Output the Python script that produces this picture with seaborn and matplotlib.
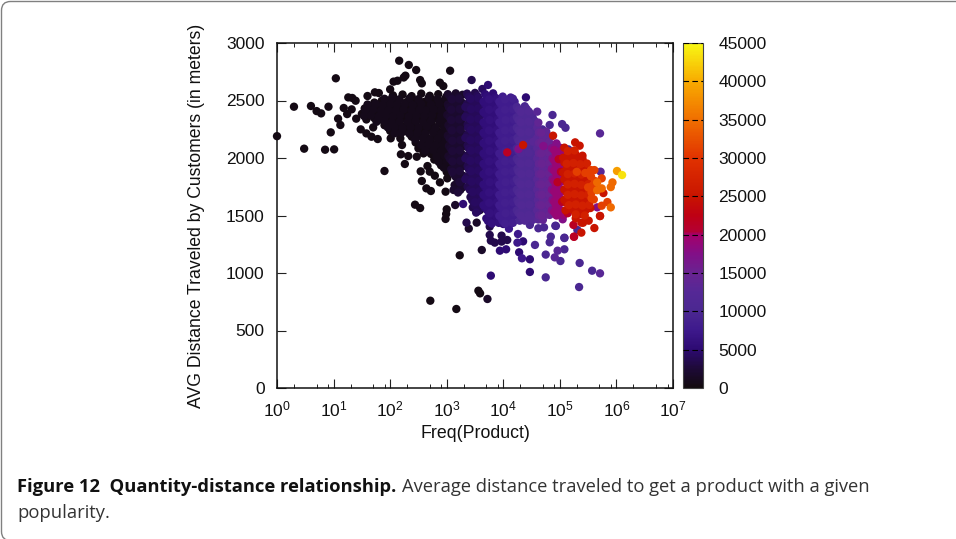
import pandas as pd
import matplotlib
matplotlib.use("Agg")
import matplotlib.pyplot as plt
import seaborn as sns
from matplotlib.cm import ScalarMappable
from matplotlib.colors import LinearSegmentedColormap, Normalize
from matplotlib.patches import FancyBboxPatch
from matplotlib.ticker import LogLocator, MultipleLocator, NullFormatter
from matplotlib.transforms import IdentityTransform

# points as (log10 of freq, avg distance), grouped by colour
black_pts = [
    (0.0,2190),(0.30,2446),(0.48,2081),(0.60,2452),(0.70,2408),(0.78,2388),(0.91,2446),(1.04,2693),(0.85,2072),
    (1.01,2075),(0.95,2223),(1.08,2342),(1.12,2287),(1.18,2435),(1.26,2527),(1.33,2522),(1.39,2498),(1.24,2382),
    (1.32,2423),(1.40,2342),(1.48,2249),(1.58,2214),(1.67,2185),(1.78,2165),(1.70,2266),(1.60,2539),(1.73,2571),
    (1.80,2565),(1.90,1887),(2.01,2171),(2.18,2171),(2.21,2113),(2.19,2032),(2.32,2017),(2.47,2011),(2.59,2040),
    (2.26,1948),(2.16,2846),(2.33,2809),(2.46,2765),(2.27,2716),(2.24,2700),(2.06,2664),(2.13,2672),(2.53,2678),
    (2.56,2649),(2.00,2597),(2.88,2655),(2.94,2626),(3.06,2759),(2.66,1930),(2.54,1884),(2.70,1881),(2.79,1846),
    (2.56,1800),(2.88,1788),(3.01,1823),(2.64,1736),(2.72,1713),(2.98,1707),(2.44,1594),(2.53,1565),(3.00,1554),
    (2.99,1513),(2.98,1470),(3.23,1154),(3.56,846),(3.59,823),(2.71,759),(3.17,687),
    (2.05,2545),(2.22,2552),(2.38,2538),(2.55,2560),(2.70,2541),(2.85,2555),(3.00,2536),
    (1.72,2482),(1.85,2497),(1.97,2488),(2.10,2502),(2.28,2484),(2.43,2499),(2.60,2487),(2.76,2503),(2.92,2490),
    (1.55,2431),(1.66,2446),(1.80,2437),(1.93,2449),(2.05,2433),(2.18,2445),(2.33,2436),(2.48,2450),(2.65,2432),
    (2.80,2444),(2.95,2437),(1.50,2384),(1.63,2396),(1.76,2385),(1.88,2399),(2.00,2382),(2.14,2394),(2.28,2387),
    (2.42,2398),(2.56,2383),(2.70,2396),(2.85,2386),(3.00,2393),(1.58,2335),(1.72,2347),(1.85,2333),(1.97,2345),
    (2.10,2336),(2.24,2348),(2.38,2332),(2.52,2344),(2.66,2337),(2.80,2349),(2.94,2334),(1.90,2285),(2.03,2296),
    (2.17,2284),(2.30,2297),(2.45,2283),(2.60,2295),(2.74,2288),(2.88,2298),(3.02,2286),(2.00,2236),(2.12,2247),
    (2.26,2234),(2.42,2246),(2.56,2238),(2.70,2248),(2.84,2233),(2.98,2244),(2.38,2186),(2.52,2197),(2.64,2184),
    (2.78,2196),(2.92,2187),(3.05,2195),(2.45,2135),(2.60,2146),(2.72,2137),(2.86,2148),(3.00,2134),(2.50,2084),
    (2.66,2095),(2.82,2086),(2.96,2097),(2.72,2036),(2.88,2047),(3.02,2038),(2.78,1986),(2.94,1997),(2.90,1936),
    (3.05,1947),(3.00,1878),
]
black_fill_pts = [
    (1.90,2515),(2.03,2520),(2.16,2510),(2.34,2518),(2.50,2512),(2.68,2522),(2.84,2514),(2.98,2519),
    (1.60,2465),(1.74,2470),(1.87,2461),(2.00,2468),(2.12,2463),(2.26,2471),(2.40,2460),(2.55,2469),(2.72,2464),(2.87,2472),
    (1.56,2415),(1.70,2420),(1.84,2411),(1.97,2418),(2.10,2413),(2.24,2421),(2.38,2410),(2.52,2419),(2.63,2414),(2.77,2422),(2.90,2412),
    (1.54,2365),(1.66,2370),(1.80,2361),(1.92,2368),(2.05,2363),(2.18,2371),(2.33,2360),(2.46,2369),(2.60,2364),(2.74,2372),(2.90,2362),
    (1.76,2315),(1.90,2320),(2.03,2311),(2.17,2318),(2.31,2313),(2.45,2321),(2.58,2310),(2.72,2319),(2.87,2314),(3.00,2322),
    (1.96,2265),(2.08,2270),(2.22,2261),(2.36,2268),(2.50,2263),(2.65,2271),(2.80,2260),(2.95,2269),
    (2.08,2215),(2.20,2220),(2.34,2211),(2.48,2218),(2.62,2213),(2.76,2221),(2.90,2210),(3.02,2219),
    (2.44,2165),(2.58,2170),(2.70,2161),(2.84,2168),(2.98,2163),(2.55,2115),(2.68,2120),(2.80,2111),(2.93,2118),(3.05,2113),
    (2.62,2065),(2.76,2070),(2.90,2061),(3.02,2068),(2.82,2015),(2.96,2020),(2.86,1965),(3.00,1970),(2.95,1915),
]
near_black_pts = [
    (3.02,2555),(3.16,2562),(3.28,2550),(3.02,2465),(3.16,2472),(3.30,2460),(3.01,2375),(3.15,2381),(3.29,2370),
    (3.03,2285),(3.16,2291),(3.30,2280),(3.02,2195),(3.17,2202),(3.30,2190),(3.04,2105),(3.17,2111),(3.29,2100),
    (3.03,2015),(3.16,2021),(3.30,2010),(3.17,1925),(3.30,1931),(3.16,1835),(3.30,1841),(3.28,1745),
    (3.14,1765),(3.15,1591),(3.53,1438),(3.39,1386),(3.62,1200),(3.72,774),(3.59,1548),
]
near_black_b_pts = [
    (3.09,2510),(3.22,2516),(3.08,2420),(3.23,2426),(3.08,2330),(3.22,2336),(3.09,2240),(3.24,2246),(3.10,2150),
    (3.24,2156),(3.10,2060),(3.23,2066),(3.10,1970),(3.24,1976),(3.10,1880),(3.23,1886),(3.23,1790),(3.20,1700),
]
near_black_c_pts = [
    (3.06,2534),(3.20,2528),(3.13,2489),(3.27,2481),(3.04,2440),(3.19,2447),(3.11,2398),(3.26,2391),(3.05,2354),
    (3.20,2346),(3.13,2308),(3.27,2301),(3.06,2260),(3.18,2268),(3.12,2219),(3.28,2211),(3.05,2171),(3.20,2178),
    (3.14,2130),(3.26,2122),(3.07,2082),(3.19,2090),(3.13,2039),(3.27,2032),(3.06,1992),(3.20,1999),(3.14,1948),
    (3.26,1940),(3.08,1902),(3.19,1910),(3.13,1857),(3.27,1850),(3.20,1812),(3.12,1722),(3.26,1768),(3.24,1722),
]
indigo_dark_pts = [
    (3.44,2678),(3.36,2560),(3.50,2566),(3.36,2470),(3.50,2476),(3.62,2465),(3.36,2380),(3.50,2386),(3.62,2375),
    (3.37,2290),(3.51,2296),(3.62,2285),(3.36,2200),(3.50,2206),(3.61,2195),(3.37,2110),(3.50,2116),(3.62,2105),
    (3.36,2020),(3.50,2026),(3.62,2015),(3.37,1930),(3.51,1936),(3.62,1925),(3.36,1840),(3.50,1846),(3.62,1835),
    (3.37,1750),(3.50,1756),(3.62,1745),(3.42,1660),(3.52,1666),(3.62,1655),(3.46,1570),(3.58,1576),(3.76,1331),
    (3.78,1281),(3.85,1264),(3.97,1325),(4.07,1287),(3.97,1273),(3.35,1438),(3.75,1534),(3.82,1461),(3.76,1403),
]
indigo_dark_b_pts = [
    (3.63,2600),(3.42,2515),(3.56,2521),(3.43,2425),(3.56,2431),(3.42,2335),(3.56,2341),(3.43,2245),(3.57,2251),
    (3.42,2155),(3.56,2161),(3.43,2065),(3.56,2071),(3.42,1975),(3.56,1981),(3.43,1885),(3.56,1891),(3.44,1795),
    (3.57,1801),(3.46,1705),(3.58,1711),(3.50,1615),(3.60,1621),(3.52,1525),
]
indigo_dark_c_pts = [
    (3.39,2532),(3.54,2540),(3.47,2489),(3.60,2481),(3.33,2444),(3.40,2438),(3.54,2446),(3.46,2399),(3.59,2391),
    (3.33,2356),(3.39,2349),(3.53,2357),(3.47,2309),(3.60,2301),(3.38,2262),(3.54,2270),(3.46,2219),(3.59,2211),
    (3.33,2175),(3.40,2168),(3.53,2176),(3.47,2129),(3.60,2121),(3.39,2082),(3.54,2090),(3.46,2039),(3.59,2031),
    (3.33,1996),(3.38,1988),(3.53,1996),(3.47,1949),(3.60,1941),(3.39,1902),(3.54,1910),(3.46,1859),(3.59,1851),
    (3.33,1816),(3.40,1808),(3.53,1816),(3.47,1769),(3.60,1761),(3.41,1722),(3.54,1730),(3.48,1679),(3.59,1671),
    (3.45,1632),(3.55,1640),(3.49,1589),(3.61,1582),(3.56,1540),
]
indigo_pts = [
    (3.29,1600),(3.78,977),(3.94,1194),(4.05,1206),(4.35,1275),(4.28,1180),(4.47,1119),(4.47,1009),(4.00,1426),
    (4.40,2527),(3.73,2635),(3.68,2555),(3.82,2562),(3.68,2465),(3.82,2471),(3.69,2375),(3.83,2381),(3.68,2285),
    (3.82,2291),(3.68,2195),(3.82,2201),(3.69,2105),(3.83,2111),(3.68,2015),(3.82,2021),(3.68,1925),(3.83,1931),
    (3.69,1835),(3.82,1841),(3.68,1745),(3.82,1751),(3.69,1655),(3.83,1661),(3.68,1565),(3.82,1571),(3.70,1475),
    (3.84,1481),
]
indigo_b_pts = [
    (3.75,2510),(3.89,2516),(3.75,2420),(3.89,2426),(3.76,2330),(3.90,2336),(3.75,2240),(3.89,2246),(3.75,2150),
    (3.89,2156),(3.76,2060),(3.90,2066),(3.75,1970),(3.89,1976),(3.75,1880),(3.89,1886),(3.76,1790),(3.90,1796),
    (3.75,1700),(3.89,1706),(3.75,1610),(3.89,1616),(3.76,1520),(3.90,1526),(3.80,1430),(3.92,1436),
]
indigo_c_pts = [
    (3.71,2534),(3.85,2526),(3.65,2490),(3.78,2482),(3.71,2446),(3.85,2438),(3.65,2399),(3.79,2392),(3.72,2354),
    (3.86,2347),(3.65,2309),(3.78,2301),(3.71,2264),(3.85,2256),(3.65,2219),(3.79,2212),(3.72,2174),(3.86,2166),
    (3.65,2129),(3.78,2121),(3.71,2084),(3.85,2076),(3.65,2039),(3.79,2031),(3.72,1994),(3.86,1986),(3.65,1949),
    (3.78,1941),(3.71,1904),(3.85,1896),(3.65,1859),(3.79,1851),(3.72,1814),(3.86,1806),(3.65,1769),(3.78,1761),
    (3.71,1724),(3.85,1716),(3.65,1679),(3.79,1671),(3.72,1634),(3.86,1626),(3.65,1589),(3.78,1581),(3.72,1544),
    (3.86,1536),(3.75,1497),(3.88,1490),(3.73,1452),
]
violet_dark_pts = [
    (3.96,2465),(4.10,2471),(3.96,2375),(4.10,2381),(3.97,2285),(4.11,2291),(3.96,2195),(4.10,2201),(3.96,2105),
    (4.10,2111),(3.97,2015),(4.11,2021),(3.96,1925),(4.10,1931),(3.96,1835),(4.10,1841),(3.97,1745),(4.11,1751),
    (3.96,1655),(4.10,1661),(3.96,1565),(4.10,1571),(3.97,1475),(4.11,1481),(4.10,1385),(4.33,1128),(4.25,1264),
    (4.26,1339),
]
violet_dark_b_pts = [
    (4.03,2510),(4.17,2516),(4.03,2420),(4.17,2426),(4.04,2330),(4.18,2336),(4.03,2240),(4.17,2246),(4.03,2150),
    (4.17,2156),(4.04,2060),(4.18,2066),(4.03,1970),(4.17,1976),(4.03,1880),(4.17,1886),(4.04,1790),(4.18,1796),
    (4.03,1700),(4.17,1706),(4.03,1610),(4.17,1616),(4.04,1520),(4.18,1526),(4.03,1430),(4.17,1436),
]
violet_dark_c_pts = [
    (3.99,2534),(4.13,2526),(3.93,2489),(4.06,2482),(4.20,2490),(3.99,2444),(4.13,2436),(3.93,2399),(4.07,2392),
    (4.20,2400),(3.99,2354),(4.14,2346),(3.93,2309),(4.06,2301),(4.20,2309),(4.00,2264),(4.13,2256),(3.93,2219),
    (4.07,2212),(4.21,2219),(3.99,2174),(4.13,2166),(3.93,2129),(4.06,2121),(4.20,2129),(4.00,2084),(4.14,2076),
    (3.93,2039),(4.07,2031),(4.20,2039),(3.99,1994),(4.13,1986),(3.93,1949),(4.06,1941),(4.21,1949),(4.00,1904),
    (4.13,1896),(3.93,1859),(4.07,1851),(4.20,1859),(3.99,1814),(4.14,1806),(3.93,1769),(4.06,1761),(4.20,1769),
    (4.00,1724),(4.13,1716),(3.93,1679),(4.07,1671),(4.21,1679),(3.99,1634),(4.13,1626),(3.93,1589),(4.06,1581),
    (4.20,1589),(4.00,1544),(4.14,1536),(3.93,1497),(4.07,1490),(4.20,1497),(3.99,1452),(4.13,1445),
]
violet_pts = [
    (4.44,2374),(4.24,2445),(4.38,2450),(4.24,2355),(4.38,2360),(4.52,2351),(4.24,2265),(4.38,2270),(4.52,2261),
    (4.25,2175),(4.39,2180),(4.53,2171),(4.24,2085),(4.38,2090),(4.52,2081),(4.24,1995),(4.38,2000),(4.52,1991),
    (4.25,1905),(4.39,1910),(4.53,1901),(4.24,1815),(4.38,1820),(4.52,1811),(4.24,1725),(4.38,1730),(4.52,1721),
    (4.25,1635),(4.39,1640),(4.53,1631),(4.24,1545),(4.38,1550),(4.52,1541),(4.29,1455),(4.47,1418),(4.62,1389),
    (4.72,1397),(4.56,1244),(4.75,962),(4.75,1160),(4.84,1316),(4.82,1267),(5.08,1307),(5.08,1206),(5.01,1104),
    (5.35,1087),(5.34,878),(5.57,1020),(5.31,1374),(4.93,1409),(4.87,2374),(4.82,2287),(5.04,2295),(5.10,2263),
    (4.69,2249),(5.15,2075),(4.92,1411),(5.08,1304),
]
violet_b_pts = [
    (4.31,2400),(4.45,2405),(4.31,2310),(4.45,2315),(4.31,2220),(4.45,2225),(4.32,2130),(4.46,2135),(4.31,2040),
    (4.45,2045),(4.31,1950),(4.45,1955),(4.32,1860),(4.46,1865),(4.31,1770),(4.45,1775),(4.31,1680),(4.45,1685),
    (4.32,1590),(4.46,1595),(4.31,1500),(4.45,1505),(4.38,1455),(4.52,1462),
]
violet_c_pts = [
    (4.27,2420),(4.41,2428),(4.34,2376),(4.48,2384),(4.27,2331),(4.41,2339),(4.55,2325),(4.34,2286),(4.48,2294),
    (4.27,2241),(4.41,2249),(4.55,2235),(4.34,2196),(4.48,2204),(4.27,2151),(4.41,2159),(4.55,2145),(4.34,2106),
    (4.48,2114),(4.27,2061),(4.41,2069),(4.55,2055),(4.34,2016),(4.48,2024),(4.27,1971),(4.41,1979),(4.55,1965),
    (4.34,1926),(4.48,1934),(4.27,1881),(4.41,1889),(4.55,1875),(4.34,1836),(4.48,1844),(4.27,1791),(4.41,1799),
    (4.55,1785),(4.34,1746),(4.48,1754),(4.27,1701),(4.41,1709),(4.55,1695),(4.34,1656),(4.48,1664),(4.27,1611),
    (4.41,1619),(4.55,1605),(4.34,1566),(4.48,1574),(4.27,1521),(4.41,1529),(4.55,1515),(4.34,1476),(4.48,1484),
]
purple_pts = [
    (4.60,2265),(4.60,2175),(4.74,2180),(4.60,2085),(4.74,2090),(4.60,1995),(4.74,2000),(4.61,1905),(4.75,1910),
    (4.60,1815),(4.74,1820),(4.60,1725),(4.74,1730),(4.61,1635),(4.75,1640),(4.60,1545),(4.74,1550),(4.62,1465),
    (4.60,2403),(5.71,2214),(5.71,997),(4.96,1194),(4.91,1136),(4.53,2142),(5.72,1881),
]
purple_b_pts = [
    (4.67,2220),(4.67,2130),(4.81,2135),(4.67,2040),(4.81,2045),(4.68,1950),(4.82,1955),(4.67,1860),(4.81,1865),
    (4.67,1770),(4.81,1775),(4.68,1680),(4.82,1685),(4.67,1590),(4.81,1595),(4.68,1500),(4.82,1505),
]
purple_c_pts = [
    (4.62,2308),(4.63,2221),(4.76,2229),(4.70,2176),(4.84,2184),(4.63,2131),(4.77,2139),(4.70,2086),(4.84,2094),
    (4.63,2041),(4.77,2049),(4.70,1996),(4.84,2004),(4.63,1951),(4.77,1959),(4.70,1906),(4.84,1914),(4.63,1861),
    (4.77,1869),(4.70,1816),(4.84,1824),(4.63,1771),(4.77,1779),(4.70,1726),(4.84,1734),(4.63,1681),(4.77,1689),
    (4.70,1636),(4.84,1644),(4.63,1591),(4.77,1599),(4.70,1546),(4.84,1554),(4.63,1501),(4.77,1509),(4.70,1462),
]
magenta_pts = [
    (4.71,2104),(4.94,2127),(4.27,2078),(4.86,2085),(5.00,2090),(4.87,1995),(5.00,2000),(4.86,1905),(5.01,1910),
    (4.87,1815),(5.00,1820),(4.86,1725),(5.00,1730),(4.87,1635),(5.01,1640),(4.86,1545),(5.00,1550),(5.66,1571),
    (5.05,1467),
]
magenta_b_pts = [
    (4.93,2040),(4.93,1950),(4.94,1860),(4.93,1770),(4.94,1680),(4.93,1590),(4.94,1500),(5.07,1505),
    (4.90,2070),(5.03,2065),(4.97,2015),(4.90,1980),(5.04,1975),(4.97,1925),(4.90,1890),(5.03,1885),(4.97,1835),
    (4.90,1800),(5.04,1795),(4.97,1745),(4.90,1710),(5.03,1705),(4.97,1655),(4.90,1620),(5.04,1615),(4.97,1565),
    (4.90,1530),(5.03,1525),
]
crimson_pts = [
    (4.07,2049),(5.25,1316),(5.24,1418),(5.25,1315),(4.98,1990),(5.02,1880),(4.96,1790),(5.04,1620),(5.14,1520),
]
red_pts = [
    (4.35,2113),(4.88,2194),(5.27,2136),(5.35,2107),(5.38,1351),(5.61,1391),(5.71,1496),(5.51,1455),(5.28,1476),
    (5.37,1513),(5.38,1438),(5.41,1437),(5.77,1695),(5.08,2090),(5.20,2052),(5.06,2002),(5.18,1996),(5.30,2010),
    (5.40,1992),(5.12,1905),(5.24,1912),(5.36,1900),(5.48,1908),(5.08,1815),(5.20,1822),(5.32,1810),(5.44,1818),
    (5.08,1725),(5.20,1732),(5.32,1720),(5.44,1728),(5.08,1635),(5.20,1642),(5.32,1630),(5.44,1638),(5.10,1545),
    (5.22,1552),(5.34,1540),(5.46,1548),(5.71,1495),
    (5.14,2024),(5.28,2030),(5.40,2020),(5.08,1960),(5.18,1945),(5.30,1968),(5.42,1960),(5.06,1875),(5.18,1880),
    (5.30,1872),(5.42,1884),(5.54,1874),(5.12,1795),(5.24,1790),(5.36,1786),(5.48,1800),(5.58,1790),(5.12,1705),
    (5.24,1700),(5.36,1696),(5.48,1710),(5.12,1610),(5.24,1615),(5.36,1608),(5.48,1620),(5.18,1570),(5.30,1576),
    (5.42,1570),(5.54,1565),
]
red_b_pts = [
    (5.14,2060),(5.26,2066),(5.12,1950),(5.24,1956),(5.36,1946),(5.48,1952),(5.14,1860),(5.26,1866),(5.38,1856),
    (5.50,1862),(5.14,1770),(5.26,1776),(5.38,1766),(5.50,1772),(5.14,1680),(5.26,1686),(5.38,1676),(5.50,1682),
    (5.16,1590),(5.28,1596),(5.40,1586),(5.52,1592),(5.28,1510),(5.44,1500),
]
orange_red_pts = [
    (5.74,1823),(5.61,1895),(5.55,1895),(5.84,1617),(5.74,1585),(5.55,1840),(5.62,1800),(5.58,1760),(5.50,1745),
    (5.62,1730),(5.56,1700),(5.60,1640),(5.45,1870),(5.30,1880),(5.56,1650),
]
orange_pts = [(5.93,1788),(5.90,1747),(5.66,1788),(5.74,1736),(5.90,1571),(5.66,1720)]
amber_pts = [(6.01,1887)]
yellow_pts = [(6.10,1852)]

band_points = [black_pts, black_fill_pts, near_black_pts, near_black_c_pts, near_black_b_pts, indigo_dark_pts,
               indigo_dark_c_pts, indigo_dark_b_pts, indigo_pts, indigo_c_pts, indigo_b_pts, violet_dark_pts,
               violet_dark_c_pts, violet_dark_b_pts, violet_pts, violet_c_pts, violet_b_pts, purple_pts,
               purple_c_pts, purple_b_pts, magenta_pts, magenta_b_pts, crimson_pts, red_pts, red_b_pts,
               orange_red_pts, orange_pts, amber_pts, yellow_pts]
band_quantity = [400, 800, 1700, 2100, 2600, 3500, 3900, 4300, 5200, 5700, 6200, 7400, 8000, 8600,
                 10000, 10800, 11500, 13000, 14000, 14800, 17500, 19000, 21500, 25000, 27000, 31000, 34500, 39000, 43500]

cb_ticks = [0, 5000, 10000, 15000, 20000, 25000, 30000, 35000, 40000, 45000]
cb_anchor_vals = [0, 2500, 5000, 7500, 10000, 12500, 15000, 17500, 20000, 20500, 22500, 25000, 30000, 35000, 40000, 45000]
cb_anchor_cols = ["#120a0e", "#1e0a38", "#2d0a72", "#3e198c", "#4b2891", "#552896", "#692391", "#820f87",
                  "#a50069", "#b40032", "#be0014", "#c81400", "#e13200", "#f06e00", "#f8aa00", "#f8f814"]

rows = []
for pts, q in zip(band_points, band_quantity):
    for e, d in pts:
        rows.append((10 ** e, d, q))
df = pd.DataFrame(rows, columns=["freq", "dist", "quantity"])

sns.set_theme(style="ticks")
plt.rcParams["font.family"] = ["Liberation Sans", "DejaVu Sans"]
plt.rcParams["mathtext.fontset"] = "custom"
plt.rcParams["mathtext.rm"] = "Liberation Sans"
plt.rcParams["mathtext.default"] = "regular"

W, H = 956, 539
cmap = LinearSegmentedColormap.from_list(
    "quantity", [(v / 45000, c) for v, c in zip(cb_anchor_vals, cb_anchor_cols)])
norm = Normalize(0, 45000)

fig = plt.figure(figsize=(W / 100, H / 100), dpi=100, facecolor="white")
ax = fig.add_axes([277 / W, (H - 388) / H, 396 / W, 345 / H])
sns.scatterplot(data=df, x="freq", y="dist", hue="quantity", palette=cmap, hue_norm=norm,
                s=36, linewidth=0, legend=False, ax=ax, clip_on=False, zorder=3)
ax.set_xscale("log")
ax.set_xlim(1, 1e7)
ax.set_ylim(0, 3000)
ax.xaxis.set_major_locator(LogLocator(base=10, numticks=10))
ax.xaxis.set_minor_locator(LogLocator(base=10, subs=[2, 5, 8], numticks=10))
ax.xaxis.set_minor_formatter(NullFormatter())
ax.yaxis.set_major_locator(MultipleLocator(500))
ax.tick_params(axis="both", which="major", direction="in", top=True, right=True, length=6.3,
               width=0.8, labelsize=12.5, color="#222222", labelcolor="#111111")
ax.tick_params(axis="y", which="major", pad=9)
ax.tick_params(axis="x", which="major", pad=8)
ax.tick_params(axis="x", which="minor", direction="in", top=True, length=3, width=0.7, color="#222222")
for s in ax.spines.values():
    s.set_linewidth(1.1)
    s.set_color("#111111")
ax.set_xlabel("Freq(Product)", fontsize=12.8, color="#111111", labelpad=4)
ax.set_ylabel("AVG Distance Traveled by Customers (in meters)", fontsize=12.7, color="#111111", labelpad=15)

# colour key
cax = fig.add_axes([683 / W, (H - 388) / H, 20 / W, 345 / H])
cb = fig.colorbar(ScalarMappable(norm=norm, cmap=cmap), cax=cax)
cb.set_ticks(cb_ticks)
cb.ax.tick_params(length=0, labelsize=12.5, labelcolor="#111111", pad=11)
cb.outline.set_linewidth(0.8)
cb.outline.set_edgecolor("#444444")
cb.ax.yaxis.grid(True, color="black", linewidth=0.8, linestyle=(0, (5, 3)))
cb.ax.set_axisbelow(False)

# page frame and caption
fig.add_artist(FancyBboxPatch((1.5, -1.5), 1000, 539, boxstyle="round,pad=0,rounding_size=9",
                              transform=IdentityTransform(), fill=False, edgecolor="#808080", linewidth=1))
fig.text(17 / W, 1 - 487 / H, "Figure 12  Quantity-distance relationship.", family="Open Sans",
         fontweight="bold", fontsize=13.2, color="#111111", va="center", ha="left")
fig.text(402 / W, 1 - 487 / H, "Average distance traveled to get a product with a given", family="Open Sans",
         fontsize=13.2, color="#333333", va="center", ha="left")
fig.text(17 / W, 1 - 513 / H, "popularity.", family="Open Sans", fontsize=13.2, color="#333333",
         va="center", ha="left")

fig.savefig("out.png", dpi=100)
